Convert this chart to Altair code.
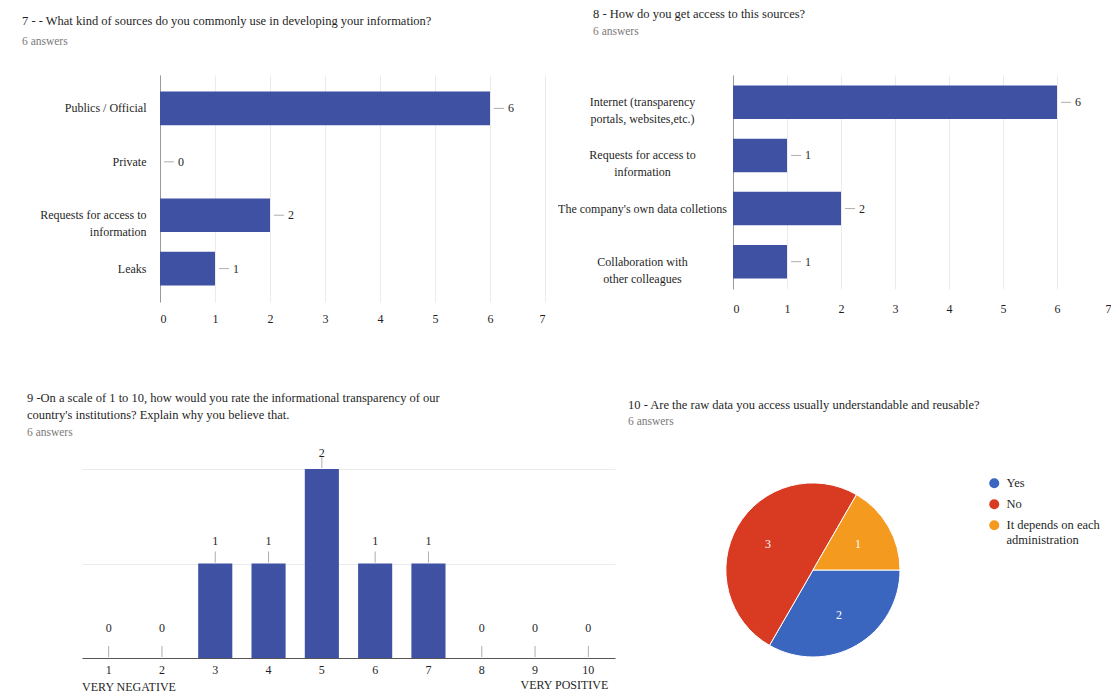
import json
import math
import altair as alt
import pandas as pd

FONT = "Liberation Serif"
BAR_BLUE = "#3f51a3"
TEXT_DARK = "#1f1f1f"
SUB_GRAY = "#7a7a7a"
GRID = "#ebebeb"

# ---------------- data ----------------
answers_note = "6 answers"

q7_title = "7 - - What kind of sources do you commonly use in developing your information?"
q7_categories = ["Publics / Official", "Private", "Requests for access to information", "Leaks"]
q7_counts = [6, 0, 2, 1]
q7_wrapped = {"Requests for access to information": ["Requests for access to", "information"]}

q8_title = "8 - How do you get access to this sources?"
q8_categories = [
    "Internet (transparency portals, websites,etc.)",
    "Requests for access to information",
    "The company's own data colletions",
    "Collaboration with other colleagues",
]
q8_counts = [6, 1, 2, 1]
q8_wrapped = {
    "Internet (transparency portals, websites,etc.)": ["Internet (transparency", "portals, websites,etc.)"],
    "Requests for access to information": ["Requests for access to", "information"],
    "Collaboration with other colleagues": ["Collaboration with", "other colleagues"],
}

bar_ticks = [0, 1, 2, 3, 4, 5, 6, 7]

q9_title = [
    "9 -On a scale of 1 to 10, how would you rate the informational transparency of  our",
    "country's institutions? Explain why you believe that.",
]
q9_scale = [1, 2, 3, 4, 5, 6, 7, 8, 9, 10]
q9_counts = [0, 0, 1, 1, 2, 1, 1, 0, 0, 0]
q9_end_labels = ["VERY NEGATIVE", "VERY POSITIVE"]
q9_end_points = [1, 10]

q10_title = "10 - Are the raw data you access usually understandable and reusable?"
q10_answers = ["Yes", "No", "It depends on each administration"]
q10_counts = [2, 3, 1]
q10_colors = ["#3a66bf", "#d93b22", "#f39a1f"]
q10_wrapped = {"It depends on each administration": ["It depends on each", "administration"]}


def wrap_expr(mapping):
    expr = "datum.label"
    for full, lines in mapping.items():
        expr = f"(datum.label == {json.dumps(full)} ? {json.dumps(lines)} : {expr})"
    return expr


def title_params(text, dx, offset, sub_pad, line_height=16):
    return alt.TitleParams(
        text=text, subtitle=answers_note, anchor="start", frame="group",
        dx=dx, offset=offset, fontSize=12.5, font=FONT, fontWeight="normal",
        color=TEXT_DARK, subtitleFont=FONT, subtitleFontSize=11.5,
        subtitleColor=SUB_GRAY, subtitlePadding=sub_pad, lineHeight=line_height,
    )


def hbar(cats, counts, width, height, x_range, pad_outer, x_label_pad, y_axis, tparams):
    df = pd.DataFrame({"category": cats, "count": counts})
    base = alt.Chart(df)
    y_enc = alt.Y("category:N", sort=cats,
                  scale=alt.Scale(domain=cats, paddingInner=0.37, paddingOuter=pad_outer),
                  title=None, axis=y_axis)
    x_enc = alt.X("count:Q", scale=alt.Scale(domain=[0, 7], nice=False, range=x_range),
                  title=None,
                  axis=alt.Axis(values=bar_ticks, grid=True, gridColor=GRID, domain=False,
                                ticks=False, tickSize=0, labelPadding=x_label_pad, format="d"))
    bars = base.mark_bar(color=BAR_BLUE).encode(y=y_enc, x=x_enc)
    lead = base.mark_tick(orient="horizontal", size=10, thickness=1, color="#8a8a8a",
                          xOffset=9).encode(y=alt.Y("category:N", sort=cats), x="count:Q")
    txt = base.mark_text(align="left", baseline="middle", dx=18, fontSize=12,
                         color=TEXT_DARK).encode(y=alt.Y("category:N", sort=cats),
                                                 x="count:Q", text="count:Q")
    return alt.layer(bars, lead, txt).properties(width=width, height=height, title=tparams)


# Q7 panel shares its left edge with the Q9 panel below; its bars start further right
p1 = hbar(
    q7_categories, q7_counts, 463, 227, [78, 463], 0.31, 11,
    alt.Axis(domain=True, domainColor="#9a9a9a", ticks=False, tickSize=0, offset=-78,
             labelAlign="right", labelPadding=14, labelExpr=wrap_expr(q7_wrapped),
             labelLimit=300, labelLineHeight=17),
    title_params(q7_title, -60, 28, 8),
)

p2 = hbar(
    q8_categories, q8_counts, 378, 214, [0, 378], 0.2, 14,
    alt.Axis(domain=True, domainColor="#9a9a9a", ticks=False, tickSize=0,
             labelAlign="center", labelPadding=91, labelExpr=wrap_expr(q8_wrapped),
             labelLimit=300, minExtent=180, labelLineHeight=17),
    title_params(q8_title, -140, 38, 5),
)

# ---------------- Q9 column chart ----------------
df9 = pd.DataFrame({"rating": q9_scale, "count": q9_counts})
df9_end = pd.DataFrame({"rating": q9_end_points, "label": q9_end_labels})
y9_scale = alt.Scale(domain=[0, 2], nice=False)
x9 = alt.X("rating:O", sort=q9_scale,
           scale=alt.Scale(domain=q9_scale, paddingInner=0.36, paddingOuter=0.18),
           title=None,
           axis=alt.Axis(labelAngle=0, domain=True, domainColor="#555555", ticks=False,
                         tickSize=0, labelPadding=6, grid=False))
y9 = alt.Y("count:Q", scale=y9_scale, title=None,
           axis=alt.Axis(values=[0, 1, 2], labels=True, labelOpacity=0, labelPadding=59,
                         domain=False, ticks=False, tickSize=0, grid=True,
                         gridColor=GRID, minExtent=74))
b9 = alt.Chart(df9)
bars9 = b9.mark_bar(color=BAR_BLUE).encode(x=x9, y=y9)
lead9 = b9.mark_tick(orient="vertical", size=11, thickness=1, color="#8a8a8a",
                     yOffset=-6.5).encode(x="rating:O",
                                          y=alt.Y("count:Q", scale=y9_scale, axis=None))
# value labels sit on their own scale: in the picture they float further above short bars
txt9 = b9.mark_text(baseline="middle", fontSize=12, color=TEXT_DARK).encode(
    x="rating:O",
    y=alt.Y("count:Q", scale=alt.Scale(domain=[0, 2], range=[159, -16], nice=False),
            axis=None),
    text="count:Q")
end_left = alt.Chart(df9_end).transform_filter(f"datum.rating == {q9_end_points[0]}").mark_text(
    align="left", baseline="middle", dx=-26.6, fontSize=12, color=TEXT_DARK
).encode(x="rating:O", y=alt.value(218), text="label:N")
end_right = alt.Chart(df9_end).transform_filter(f"datum.rating == {q9_end_points[1]}").mark_text(
    align="right", baseline="middle", dx=20, fontSize=12, color=TEXT_DARK
).encode(x="rating:O", y=alt.value(216), text="label:N")
p3 = alt.layer(bars9, lead9, txt9, end_left, end_right).resolve_scale(
    y="independent"
).properties(width=533, height=189, title=title_params(q9_title, -55, 9, 5, 17))

# ---------------- Q10 pie ----------------
df10 = pd.DataFrame({"answer": q10_answers, "count": q10_counts,
                     "rank": list(range(len(q10_answers)))})
theta = alt.Theta("count:Q", stack=True,
                  scale=alt.Scale(range=[math.pi / 2, math.pi / 2 + 2 * math.pi]))
b10 = alt.Chart(df10)
pie = b10.mark_arc(outerRadius=87, stroke="white", strokeWidth=1).encode(
    theta=theta,
    order=alt.Order("rank:Q"),
    color=alt.Color("answer:N",
                    scale=alt.Scale(domain=q10_answers, range=q10_colors),
                    legend=alt.Legend(orient="none", legendX=276, legendY=8, title=None,
                                      symbolType="circle", symbolSize=100,
                                      symbolStrokeWidth=0, labelFontSize=12.5,
                                      labelColor=TEXT_DARK, rowPadding=8,
                                      labelOffset=6, labelLimit=200,
                                      labelExpr=wrap_expr(q10_wrapped))),
)
pie_txt = b10.mark_text(radius=52, color="white", fontSize=12).encode(
    theta=theta, order=alt.Order("rank:Q"), text="count:Q")
p4 = alt.layer(pie, pie_txt).properties(
    width=202, height=202, title=title_params(q10_title, -84, 42, 4))

top = alt.hconcat(p1, p2, spacing=8).resolve_legend(color="independent")
bottom = alt.hconcat(p3, p4, spacing=13).resolve_legend(color="independent")

chart = alt.vconcat(top, bottom, spacing=68).properties(
    padding={"left": 0, "top": 0, "right": 0, "bottom": 0}
).resolve_legend(color="independent").configure(font=FONT).configure_view(
    stroke=None
).configure_axis(
    labelFont=FONT, labelFontSize=12, labelColor=TEXT_DARK
).configure_legend(labelFont=FONT).configure_text(font=FONT)

chart.save("out.html", embed_options={"renderer": "svg", "actions": False})
